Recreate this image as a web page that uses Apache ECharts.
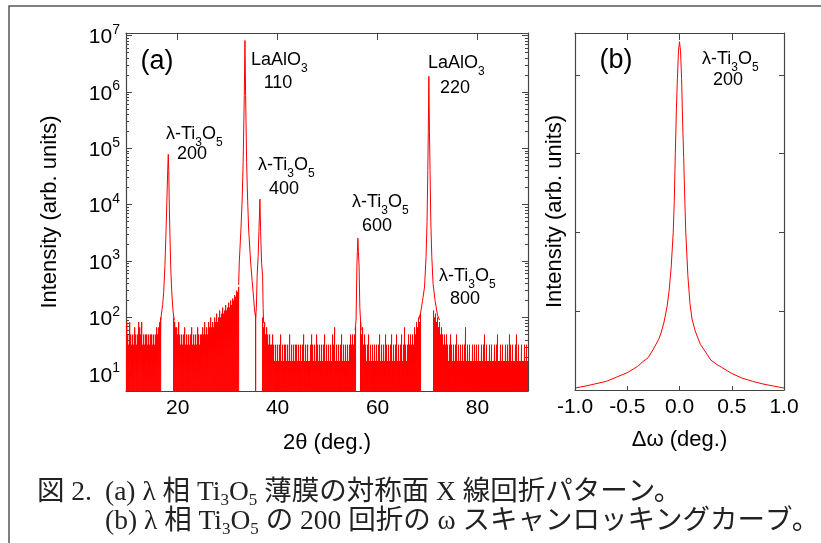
<!DOCTYPE html>
<html>
<head>
<meta charset="utf-8">
<script src="https://cdn.jsdelivr.net/npm/echarts@6/dist/echarts.min.js"></script>
<style>
html, body { margin: 0; padding: 0; background: #fff; }
#main { width: 821px; height: 543px; }
</style>
</head>
<body>
<div id="main"></div>
<script>
var chart = echarts.init(document.getElementById('main'));

// (a) 2θ scan. Upper edge of the noisy background, one value every 0.2 deg
// starting at 9.8 deg; null = white gap under a peak
var bgStart = 9.8;
var bgStep = 0.2;
var bgA = [
    83, 50, 33, 83, 50, 33, 50, 33, 67, 50, 33, 50, 83, 67, 50, 83, 33, 50, 33, 50, 50, 33, 50, 33, 50,
    50, 33, 50, 33, 50, 67, 50, 67, 83, 100, null, null, null, null, null, null, null, null, null, null, null, null, 100, 83, 67,
    67, 50, 83, 50, 33, 50, 33, 50, 67, 33, 50, 33, 50, 33, 50, 67, 33, 50, 33, 50, 33, 67, 50, 33, 50,
    50, 67, 50, 83, 50, 67, 50, 83, 67, 100, 67, 83, 67, 100, 83, 117, 83, 100, 133, 100, 117, 150, 117, 133, 167,
    133, 150, 183, 150, 200, 167, 217, 200, 250, 233, 300, 283, 350, null, null, null, null, null, null, null, null, null, null, null, null,
    null, null, null, null, 117, null, null, null, null, null, null, 100, 67, 83, 50, 67, 50, 33, 50, 33, 33, 50, 33, 17, 33
];
var bgB = [
    17, 33, 17, 33, 50, 17, 33, 17, 33, 33, 17, 33, 17, 50, 17, 33, 17, 33, 17, 33, 33, 17, 33, 17, 33,
    17, 33, 50, 17, 33, 17, 33, 17, 17, 33, 50, 33, 17, 33, 17, 50, 33, 17, 33, 17, 33, 17, 33, 50, 17,
    33, 17, 33, 17, 33, 17, 50, 33, 67, 17, 33, 17, 33, 17, 33, 50, 17, 33, 17, 33, 17, 33, 17, 33, 50,
    33, 50, 33, 50, 67, null, null, null, null, 83, 50, 67, 33, 50, 33, 17, 33, 50, 17, 33, 17, 33, 17, 33, 17,
    33, 17, 33, 50, 17, 33, 17, 33, 17, 50, 33, 17, 33, 17, 33, 50, 17, 33, 17, 33, 50, 17, 33, 17, 33
];
var bgC = [
    50, 17, 33, 67, 33, 17, 33, 50, 33, 50, 33, 50, 33, 67, 50, 83, 67, 100, 83, 117, null, null, null, null, null,
    null, null, null, null, null, null, null, 133, 100, 117, 83, 100, 67, 83, 50, 67, 50, 33, 50, 33, 50, 33, 17, 33, 50,
    33, 17, 33, 17, 33, 50, 17, 33, 17, 33, 17, 33, 17, 33, 67, 17, 33, 17, 33, 17, 17, 33, 17, 33, 17,
    33, 17, 33, 17, 17, 33, 17, 33, 50, 17, 33, 17, 17, 33, 17, 33, 17, 17, 33, 17, 33, 50, 17, 17, 33,
    17, 33, 17, 17, 33, 17, 33, 17, 50, 33, 17, 33, 17, 17, 33, 50, 17, 33, 17, 17, 33, 17, 17, 33, 17,
    33, 17
];

// peak profiles [2θ, intensity]
var peak200 = [[16.6, 90], [16.8, 125], [17.0, 170], [17.2, 280], [17.45, 830], [17.65, 3000], [17.85, 12600],
    [18.0, 40000], [18.12, 78000], [18.22, 40000], [18.3, 12600], [18.45, 3000], [18.6, 830], [18.8, 300],
    [19.0, 160], [19.1, 125], [19.3, 90]];
var peak110 = [[32.2, 380], [32.33, 960], [32.66, 3700], [32.9, 12000], [33.1, 56000], [33.33, 850000],
    [33.46, 8100000], [33.6, 850000], [33.8, 56000], [34.0, 12000], [34.2, 3700], [34.6, 960], [34.9, 450],
    [35.2, 220], [35.4, 130], [35.6, 100]];
var peak400 = [[35.6, 100], [35.75, 150], [35.9, 540], [36.1, 1200], [36.26, 3300], [36.46, 12500],
    [36.6, 3300], [36.8, 900], [37.0, 540], [37.1, 150], [37.2, 80]];
var peak600 = [[55.5, 60], [55.7, 90], [55.86, 815], [55.96, 1500], [56.06, 2550], [56.16, 1500],
    [56.3, 815], [56.45, 150], [56.7, 60]];
var peak220 = [[68.2, 90], [68.6, 120], [69.0, 200], [69.4, 350], [69.7, 1200], [69.9, 5000], [70.05, 40000],
    [70.15, 200000], [70.26, 1880000], [70.38, 200000], [70.5, 40000], [70.65, 5000], [70.85, 1200],
    [71.1, 400], [71.5, 200], [72.0, 110], [72.4, 90]];

// (b) rocking curve of the 200 reflection
var omega = [-1.0, -0.9, -0.8, -0.7, -0.6, -0.5, -0.4, -0.35, -0.3, -0.25, -0.2, -0.18, -0.15, -0.12, -0.1,
    -0.08, -0.06, -0.05, -0.04, -0.03, -0.02, -0.01, 0, 0.01, 0.02, 0.03, 0.04, 0.05, 0.06, 0.08, 0.1, 0.12,
    0.15, 0.2, 0.25, 0.3, 0.35, 0.4, 0.5, 0.6, 0.7, 0.8, 0.9, 1.0];
var rocking = [0.025, 0.05, 0.08, 0.11, 0.165, 0.22, 0.3, 0.36, 0.41, 0.52, 0.64, 0.71, 0.85, 1.05, 1.25,
    1.55, 2.0, 2.4, 3.0, 3.55, 3.95, 4.3, 4.42, 4.3, 3.95, 3.4, 2.95, 2.45, 2.0, 1.45, 1.1, 0.9,
    0.75, 0.58, 0.48, 0.38, 0.33, 0.29, 0.21, 0.15, 0.11, 0.076, 0.05, 0.025];

var decades = [10, 100, 1000, 10000, 100000, 1000000, 10000000];
var thetaTicks = [20, 40, 60, 80];

var FONT = '"Liberation Sans", Arial, sans-serif';
var AXIS_COLOR = '#444';
var RED = '#ff0000';
var BG_FLOOR = 1; // below the axis minimum, so each column reaches the bottom

// background drawn as one thin column per step
var bgHigh = bgA.concat(bgB, bgC);
var bgLine = [];
bgHigh.forEach(function (v, i) {
    var x = +(bgStart + i * bgStep).toFixed(2);
    if (v === null) {
        bgLine.push([x, '-']);
    } else {
        bgLine.push([x, BG_FLOOR], [x, v], [x, BG_FLOOR]);
    }
});

var peakLine = [];
[peak200, peak110, peak400, peak600, peak220].forEach(function (p) {
    peakLine = peakLine.concat(p);
    peakLine.push([p[p.length - 1][0], '-']);
});

var minorTicks = [];
[1, 10, 100, 1000, 10000, 100000, 1000000].forEach(function (d) {
    for (var m = 2; m <= 9; m++) minorTicks.push(m * d);
});

var logMin = 5, logMax = 11000000;

function logAxis(pos, major, withLine) {
    return {
        type: 'log', gridIndex: 0, position: pos, min: logMin, max: logMax,
        axisLine: { show: withLine, onZero: false, lineStyle: { color: AXIS_COLOR, width: 1.2 } },
        axisTick: { show: true, inside: true, length: major ? 6 : 3, customValues: major ? decades : minorTicks,
            lineStyle: { color: AXIS_COLOR, width: 1 } },
        axisLabel: { show: false },
        splitLine: { show: false }
    };
}

var yLeft = logAxis('left', true, true);
yLeft.axisLabel = {
    show: true, margin: 6, customValues: decades,
    formatter: function (v) {
        return '{b|10}{e|' + Math.round(Math.log10(v)) + '}';
    },
    rich: {
        b: { fontSize: 21, fontFamily: FONT, color: '#000', padding: [4, 0, 0, 0], verticalAlign: 'bottom' },
        e: { fontSize: 14, fontFamily: FONT, color: '#000', verticalAlign: 'top' }
    }
};
yLeft.name = 'Intensity (arb. units)';
yLeft.nameLocation = 'middle';
yLeft.nameGap = 65;
yLeft.nameTextStyle = { fontSize: 22, fontFamily: FONT, color: '#000' };

var annRich = {
    n: { fontSize: 18, fontFamily: FONT, color: '#000', padding: [0, 0, 5, 0], verticalAlign: 'bottom' },
    s: { fontSize: 12, fontFamily: FONT, color: '#000', verticalAlign: 'bottom' }
};
var TI = '{n|λ-Ti}{s|3}{n|O}{s|5}';
var LAO = '{n|LaAlO}{s|3}';

function label(text, x, y, align) {
    return {
        type: 'text', x: x, y: y, silent: true,
        style: { text: text, rich: annRich, align: align, verticalAlign: 'middle',
            textAlign: align, textVerticalAlign: 'middle', fill: '#000', fontSize: 18, fontFamily: FONT }
    };
}
function plain(text, x, y, size, align) {
    return {
        type: 'text', x: x, y: y, silent: true,
        style: { text: text, align: align, verticalAlign: 'middle', textAlign: align, textVerticalAlign: 'middle',
            fill: '#000', fontSize: size, fontFamily: FONT }
    };
}

var capFont = '"Liberation Serif", "Noto Sans CJK JP", serif';
var capRich = {
    n: { fontSize: 27.5, fontFamily: capFont, color: '#222', padding: [0, 0, 2, 0], verticalAlign: 'bottom' },
    s: { fontSize: 17, fontFamily: capFont, color: '#222', verticalAlign: 'bottom' }
};
function caption(text, x, y) {
    return {
        type: 'text', x: x, y: y, silent: true,
        style: { text: text, rich: capRich, align: 'left', verticalAlign: 'middle', textAlign: 'left',
            textVerticalAlign: 'middle', fill: '#222' }
    };
}

var option = {
    animation: false,
    backgroundColor: '#fff',
    grid: [
        { left: 126, top: 33, width: 402, height: 358, outerBoundsMode: 'none' },
        { left: 575, top: 33, width: 209, height: 357, outerBoundsMode: 'none' }
    ],
    xAxis: [
        {
            type: 'value', gridIndex: 0, position: 'bottom', min: 9.66, max: 90.1,
            name: '2θ (deg.)', nameLocation: 'middle', nameGap: 41,
            nameTextStyle: { fontSize: 22, fontFamily: FONT, color: '#000' },
            axisLine: { onZero: false, lineStyle: { color: AXIS_COLOR, width: 1.2 } },
            axisTick: { inside: true, length: 4, customValues: thetaTicks, lineStyle: { color: AXIS_COLOR } },
            axisLabel: { customValues: thetaTicks, fontSize: 21, fontFamily: FONT, color: '#000', margin: 7 },
            splitLine: { show: false }
        },
        {
            type: 'value', gridIndex: 0, position: 'top', min: 9.66, max: 90.1,
            axisLine: { onZero: false, lineStyle: { color: AXIS_COLOR, width: 1.2 } },
            axisTick: { inside: true, length: 7, customValues: thetaTicks, lineStyle: { color: AXIS_COLOR } },
            axisLabel: { show: false },
            splitLine: { show: false }
        },
        {
            type: 'value', gridIndex: 1, position: 'bottom', min: -1, max: 1, interval: 0.5,
            name: 'Δω (deg.)', nameLocation: 'middle', nameGap: 39,
            nameTextStyle: { fontSize: 22, fontFamily: FONT, color: '#000' },
            axisLine: { onZero: false, lineStyle: { color: AXIS_COLOR, width: 1.2 } },
            axisTick: { inside: true, length: 4, lineStyle: { color: AXIS_COLOR } },
            axisLabel: { fontSize: 21, fontFamily: FONT, color: '#000', margin: 7,
                formatter: function (v) { return v.toFixed(1); } },
            splitLine: { show: false }
        },
        {
            type: 'value', gridIndex: 1, position: 'top', min: -1, max: 1, interval: 0.5,
            axisLine: { onZero: false, lineStyle: { color: AXIS_COLOR, width: 1.2 } },
            axisTick: { inside: true, length: 7, lineStyle: { color: AXIS_COLOR } },
            axisLabel: { show: false },
            splitLine: { show: false }
        }
    ],
    yAxis: [
        yLeft,
        logAxis('left', false, false),
        logAxis('right', true, true),
        logAxis('right', false, false),
        {
            type: 'value', gridIndex: 1, position: 'left', min: 0, max: 4.53, interval: 1,
            name: 'Intensity (arb. units)', nameLocation: 'middle', nameGap: 9,
            nameTextStyle: { fontSize: 22, fontFamily: FONT, color: '#000' },
            axisLine: { show: true, onZero: false, lineStyle: { color: AXIS_COLOR, width: 1.2 } },
            axisTick: { show: true, inside: true, length: 5, lineStyle: { color: AXIS_COLOR } },
            axisLabel: { show: false },
            splitLine: { show: false }
        },
        {
            type: 'value', gridIndex: 1, position: 'right', min: 0, max: 4.53, interval: 1,
            axisLine: { show: true, onZero: false, lineStyle: { color: AXIS_COLOR, width: 1.2 } },
            axisTick: { show: true, inside: true, length: 5, lineStyle: { color: AXIS_COLOR } },
            axisLabel: { show: false },
            splitLine: { show: false }
        }
    ],
    series: [
        {
            name: 'background', type: 'line', xAxisIndex: 0, yAxisIndex: 0,
            data: bgLine, showSymbol: false, connectNulls: false,
            lineStyle: { color: RED, width: 1 }, itemStyle: { color: RED }
        },
        {
            name: 'peaks', type: 'line', xAxisIndex: 0, yAxisIndex: 0,
            data: peakLine, showSymbol: false, connectNulls: false,
            lineStyle: { color: RED, width: 1 }, itemStyle: { color: RED }
        },
        {
            name: 'rocking', type: 'line', xAxisIndex: 2, yAxisIndex: 4,
            data: omega.map(function (w, i) { return [w, rocking[i]]; }),
            showSymbol: false,
            lineStyle: { color: RED, width: 1 }, itemStyle: { color: RED }
        }
    ],
    graphic: [
        { type: 'polyline', silent: true, shape: { points: [[9, 543], [9, 6], [821, 6]] },
          style: { stroke: '#555', lineWidth: 1.5, fill: null } },
        plain('(a)', 157, 62, 27, 'center'),
        plain('(b)', 616, 61, 27, 'center'),
        label(LAO, 251, 63, 'left'),
        label('{n|110}', 278, 86, 'center'),
        label(LAO, 428, 66, 'left'),
        label('{n|220}', 455, 91, 'center'),
        label(TI, 166, 137, 'left'),
        label('{n|200}', 192, 157, 'center'),
        label(TI, 258, 168, 'left'),
        label('{n|400}', 284, 192, 'center'),
        label(TI, 352, 205, 'left'),
        label('{n|600}', 377, 229, 'center'),
        label(TI, 439, 279, 'left'),
        label('{n|800}', 465, 302, 'center'),
        label(TI, 702, 62, 'left'),
        label('{n|200}', 728, 83, 'center'),
        caption('{n|図 2.}', 37, 494),
        caption('{n|(a) λ 相 Ti}{s|3}{n|O}{s|5}{n| 薄膜の対称面 X 線回折パターン。}', 105, 494),
        caption('{n|(b) λ 相 Ti}{s|3}{n|O}{s|5}{n| の 200 回折の ω スキャンロッキングカーブ。}', 105, 523)
    ]
};

chart.setOption(option);
</script>
</body>
</html>
